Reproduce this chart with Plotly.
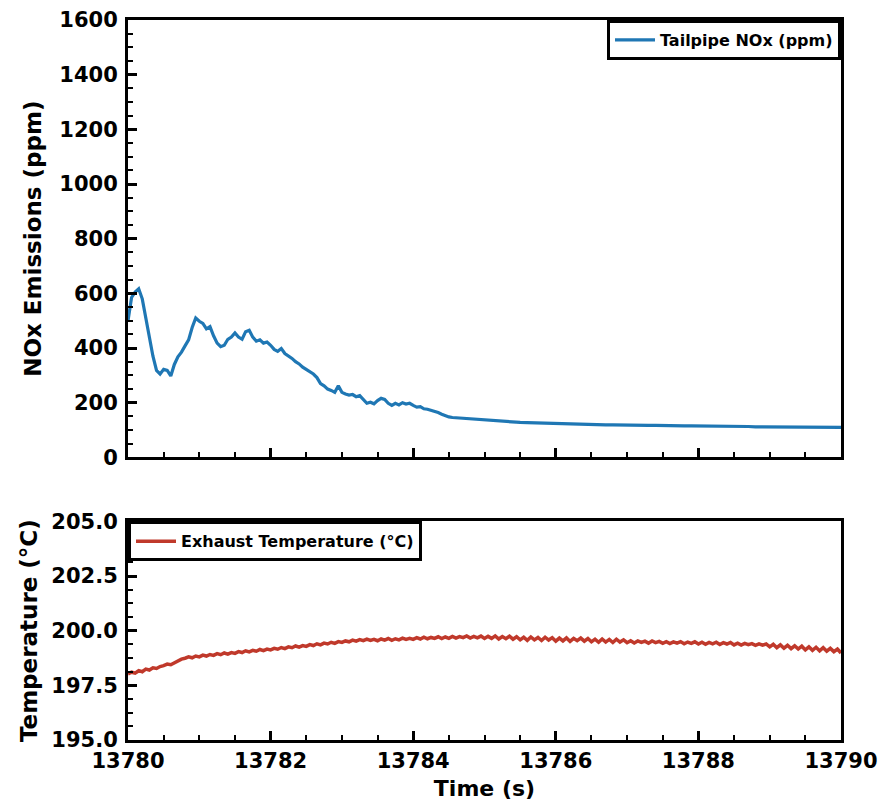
import plotly.graph_objects as go

# ---- data ----
t_start = 13780.0
# first 5 s sampled every 0.05 s
nox_ppm_fast = [500, 585, 605, 617, 580, 510, 440, 370, 318, 305,
                322, 318, 298, 340, 368, 385, 408, 430, 475, 510,
                498, 490, 470, 478, 445, 418, 405, 410, 432, 440,
                455, 440, 432, 460, 465, 440, 425, 430, 418, 422,
                410, 395, 388, 398, 380, 372, 362, 350, 342, 330,
                322, 312, 305, 292, 270, 262, 250, 245, 238, 262,
                238, 232, 228, 230, 222, 226, 210, 198, 202, 196,
                208, 216, 212, 198, 190, 198, 192, 200, 195, 198,
                190, 184, 186, 178, 176, 172, 170, 164, 158, 152,
                148, 146, 145, 144, 143, 142, 141, 140, 138, 137]
# last 5 s sampled every 0.1 s
nox_ppm_slow = [135, 134, 132, 131, 129, 128, 127, 126, 125, 124,
                124, 123, 122, 121, 121, 120, 120, 119, 119, 118,
                118, 118, 117, 117, 117, 116, 116, 116, 115, 115,
                115, 114, 114, 114, 113, 113, 113, 113, 112, 112,
                112, 112, 111, 111, 111, 111, 111, 110, 110, 110,
                110]
nox_ppm = nox_ppm_fast + nox_ppm_slow
nox_time = ([t_start + i / 20 for i in range(len(nox_ppm_fast))]
            + [t_start + 5 + i / 10 for i in range(len(nox_ppm_slow))])

temp_c = [198.02, 198.10, 198.06, 198.17, 198.12, 198.24, 198.20, 198.30, 198.27, 198.36,
          198.40, 198.47, 198.44, 198.53, 198.60, 198.70, 198.74, 198.80, 198.76, 198.84,
          198.80, 198.88, 198.84, 198.91, 198.87, 198.95, 198.90, 198.98, 198.93, 199.00,
          198.96, 199.04, 199.00, 199.08, 199.03, 199.10, 199.06, 199.14, 199.09, 199.16,
          199.12, 199.19, 199.15, 199.23, 199.18, 199.26, 199.22, 199.30, 199.25, 199.32,
          199.28, 199.36, 199.32, 199.40, 199.35, 199.43, 199.39, 199.47, 199.42, 199.50,
          199.46, 199.53, 199.49, 199.57, 199.52, 199.59, 199.54, 199.61, 199.55, 199.60,
          199.54, 199.62, 199.57, 199.64, 199.56, 199.63, 199.58, 199.66, 199.60, 199.65,
          199.60, 199.68, 199.62, 199.70, 199.63, 199.69, 199.65, 199.72, 199.64, 199.71,
          199.65, 199.74, 199.66, 199.73, 199.68, 199.76, 199.66, 199.74, 199.67, 199.75,
          199.64, 199.74, 199.65, 199.76, 199.62, 199.73, 199.63, 199.75, 199.61, 199.72,
          199.58, 199.70, 199.56, 199.71, 199.58, 199.69, 199.55, 199.70, 199.57, 199.68,
          199.52, 199.66, 199.53, 199.67, 199.51, 199.65, 199.54, 199.66, 199.52, 199.64,
          199.49, 199.61, 199.47, 199.62, 199.48, 199.60, 199.46, 199.61, 199.48, 199.58,
          199.45, 199.54, 199.44, 199.53, 199.46, 199.52, 199.43, 199.53, 199.45, 199.51,
          199.42, 199.50, 199.41, 199.49, 199.43, 199.50, 199.40, 199.48, 199.42, 199.49,
          199.39, 199.47, 199.38, 199.46, 199.40, 199.47, 199.37, 199.45, 199.39, 199.46,
          199.35, 199.43, 199.34, 199.42, 199.36, 199.41, 199.33, 199.40, 199.34, 199.39,
          199.26, 199.38, 199.22, 199.35, 199.20, 199.33, 199.18, 199.31, 199.16, 199.29,
          199.12, 199.26, 199.10, 199.24, 199.08, 199.22, 199.06, 199.19, 199.04, 199.16,
          198.98]
temp_time = [t_start + i / 20 for i in range(len(temp_c))]

x_ticks = [13780, 13782, 13784, 13786, 13788, 13790]
nox_ticks = [0, 200, 400, 600, 800, 1000, 1200, 1400, 1600]
temp_ticks = [195.0, 197.5, 200.0, 202.5, 205.0]

# ---- figure ----
FONT = "DejaVu Sans"
TICK_SIZE = 21
TITLE_SIZE = 23
fig = go.Figure()
fig.add_trace(go.Scatter(x=nox_time, y=nox_ppm, mode="lines", name="Tailpipe NOx (ppm)",
                         line=dict(color="#1f77b4", width=3.2), xaxis="x", yaxis="y",
                         legend="legend", showlegend=True))
fig.add_trace(go.Scatter(x=temp_time, y=temp_c, mode="lines", name="Exhaust Temperature (°C)",
                         line=dict(color="#c0392b", width=3.5), xaxis="x2", yaxis="y2",
                         legend="legend2", showlegend=True))

top_dom = [0.3925, 1.0]
bot_dom = [0.0, 0.3037]

axis_common = dict(showline=True, linecolor="black", linewidth=3, mirror=True,
                   ticks="inside", ticklen=9, tickwidth=3, tickcolor="black",
                   showgrid=False, zeroline=False, automargin=False,
                   ticklabeloverflow="allow",
                   tickfont=dict(family=FONT, size=TICK_SIZE, color="black", weight="bold"))
minor_common = dict(ticks="inside", ticklen=5, tickwidth=2, tickcolor="black", showgrid=False)

fig.update_layout(
    width=879, height=794,
    margin=dict(l=120, r=46, t=12, b=62),
    plot_bgcolor="white", paper_bgcolor="white",
    font=dict(family=FONT, color="black"),
    showlegend=True,
    xaxis=dict(domain=[0, 1], anchor="y", range=[13780, 13790], tickvals=x_ticks,
               showticklabels=False, minor=dict(dtick=0.5, tick0=13780, **minor_common),
               **axis_common),
    yaxis=dict(domain=top_dom, anchor="x", range=[0, 1600], tickvals=nox_ticks,
               ticklabelstandoff=3,
               minor=dict(dtick=50, tick0=0, **minor_common),
               title=dict(text="NOx Emissions (ppm)",
                          font=dict(family=FONT, size=TITLE_SIZE, color="black", weight="bold"),
                          standoff=12),
               **axis_common),
    xaxis2=dict(domain=[0, 1], anchor="y2", range=[13780, 13790], tickvals=x_ticks,
                tickformat="d",
                minor=dict(dtick=0.5, tick0=13780, **minor_common),
                title=dict(text="Time (s)",
                           font=dict(family=FONT, size=22, color="black", weight="bold"),
                           standoff=9),
                **axis_common),
    yaxis2=dict(domain=bot_dom, anchor="x2", range=[195, 205], tickvals=temp_ticks,
                tickformat=".1f", ticklabelstandoff=3,
                minor=dict(dtick=0.625, tick0=195, **minor_common),
                title=dict(text="Temperature (°C)",
                           font=dict(family=FONT, size=TITLE_SIZE, color="black", weight="bold"),
                           standoff=8),
                **axis_common),
    legend=dict(x=1, y=1, xanchor="right", yanchor="top", xref="paper", yref="paper",
                bgcolor="white", bordercolor="black", borderwidth=3, itemwidth=40,
                font=dict(family=FONT, size=16, color="black", weight="bold")),
    legend2=dict(x=0, y=bot_dom[1], xanchor="left", yanchor="top", xref="paper", yref="paper",
                 bgcolor="white", bordercolor="black", borderwidth=3, itemwidth=40,
                 font=dict(family=FONT, size=16, color="black", weight="bold")),
)

fig.write_html("out.html")
